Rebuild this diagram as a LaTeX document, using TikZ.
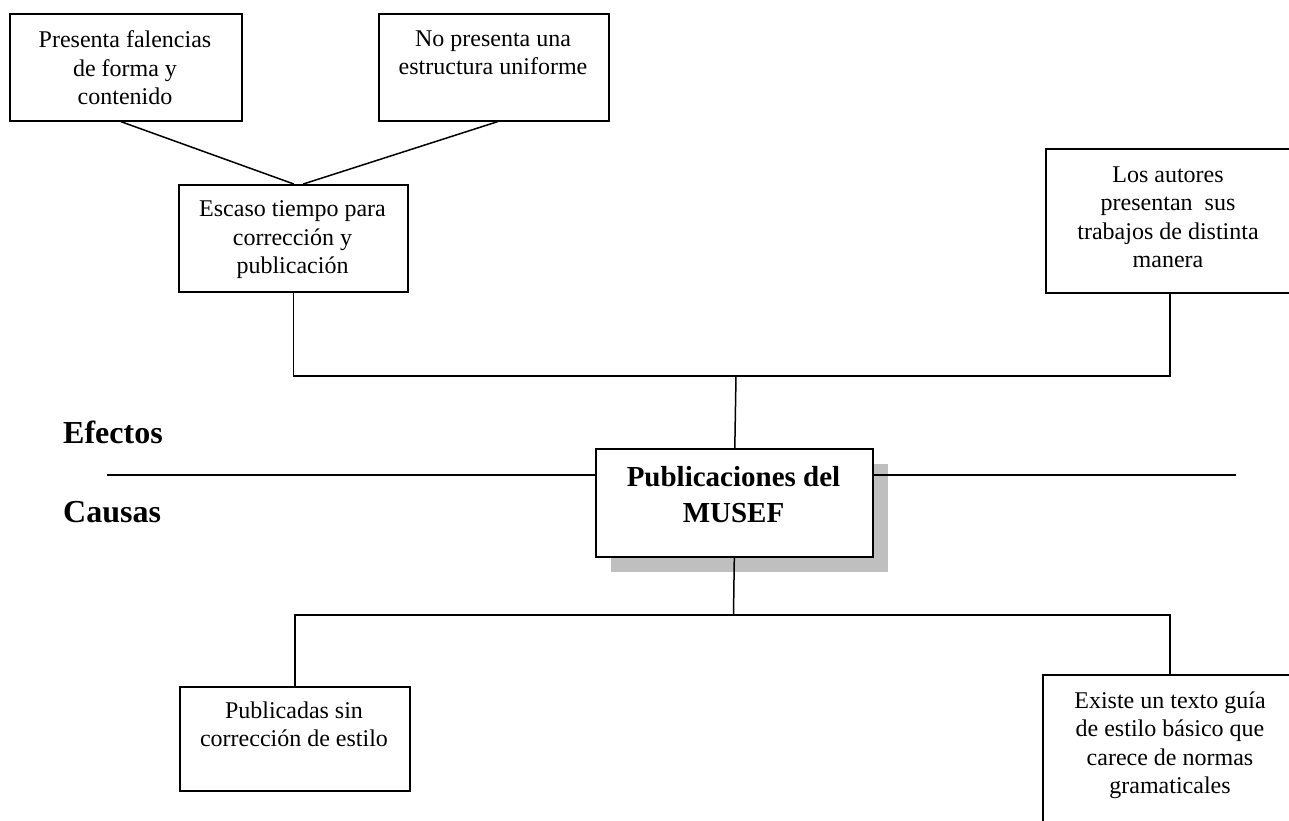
\documentclass[tikz,border=0pt]{standalone}
\usepackage{fontspec}
\setmainfont{Liberation Serif}
\begin{document}
\begin{tikzpicture}[x=1pt,y=-1pt,
  boxshape/.style={draw=black, line width=1.6pt, fill=white, rectangle, inner sep=0pt, anchor=north west},
  txt/.style={font=\fontsize{24}{28.5}\selectfont, align=center, inner sep=0pt, anchor=north},
  bigtxt/.style={font=\bfseries\fontsize{29}{36}\selectfont, align=center, inner sep=0pt, anchor=north},
  sidelabel/.style={font=\bfseries\fontsize{32}{38}\selectfont, inner sep=0pt, anchor=base west},
  conn/.style={draw=black, line width=1.5pt},
  shadowbox/.style={fill=black!25, draw=none, rectangle, inner sep=0pt, anchor=north west}
]
\useasboundingbox (0,0) rectangle (1289,821);
\clip (0,0) rectangle (1289,821);

% top effect boxes
\node[boxshape, minimum width=232pt, minimum height=107pt] (b1) at (9,13) {};
\node[txt] (t1) at (125,30.5) {Presenta falencias\\de forma y\\contenido};
\node[boxshape, minimum width=230pt, minimum height=107pt] (b2) at (378,13) {};
\node[txt] (t2) at (493,30.5) {No presenta una\\estructura uniforme};

\node[boxshape, minimum width=229pt, minimum height=107pt] (esc) at (178,184) {};
\node[txt] (tesc) at (292.5,200.5) {Escaso tiempo para\\corrección y\\publicación};

\node[boxshape, minimum width=248pt, minimum height=144pt] (aut) at (1045,148) {};
\node[txt] (taut) at (1168,166.5) {Los autores\\presentan\ \ sus\\trabajos de distinta\\manera};

% central box with shadow
\node[shadowbox, minimum width=277pt, minimum height=108pt] (shd) at (611,464) {};
\node[boxshape, minimum width=277pt, minimum height=108pt] (musef) at (595,448) {};
\node[bigtxt] (tmusef) at (733.5,466) {Publicaciones del\\MUSEF};

% cause boxes
\node[boxshape, minimum width=230pt, minimum height=104pt] (pub) at (179,686) {};
\node[txt] (tpub) at (294,701.5) {Publicadas sin\\corrección de estilo};

\node[boxshape, minimum width=254pt, minimum height=160pt] (exi) at (1042,674) {};
\node[txt] (texi) at (1170,691.5) {Existe un texto guía\\de estilo básico que\\carece de normas\\gramaticales};

% side labels
\node[sidelabel] (efectos) at (63,443) {Efectos};
\node[sidelabel] (causas) at (63,522) {Causas};

% connectors
\draw[conn] ([xshift=-5pt]b1.south) -- ([xshift=0.5pt]esc.north);
\draw[conn] ([xshift=4pt]b2.south) -- ([xshift=10pt]esc.north);

\coordinate (jt) at (736,376);
\draw[conn] (esc.south) |- (jt) -| (aut.south);
\draw[conn] (jt) -- ([xshift=0.5pt]musef.north);

\coordinate (jb) at (733.5,615);
\draw[conn] (musef.south) -- (jb);
\draw[conn] (pub.north) |- (jb) -| (exi.north);

\coordinate (ll) at (107,475);
\coordinate (lr) at (1236,475);
\draw[conn] (ll) -- (ll -| musef.west);
\draw[conn] (musef.east |- lr) -- (lr);
\end{tikzpicture}
\end{document}
